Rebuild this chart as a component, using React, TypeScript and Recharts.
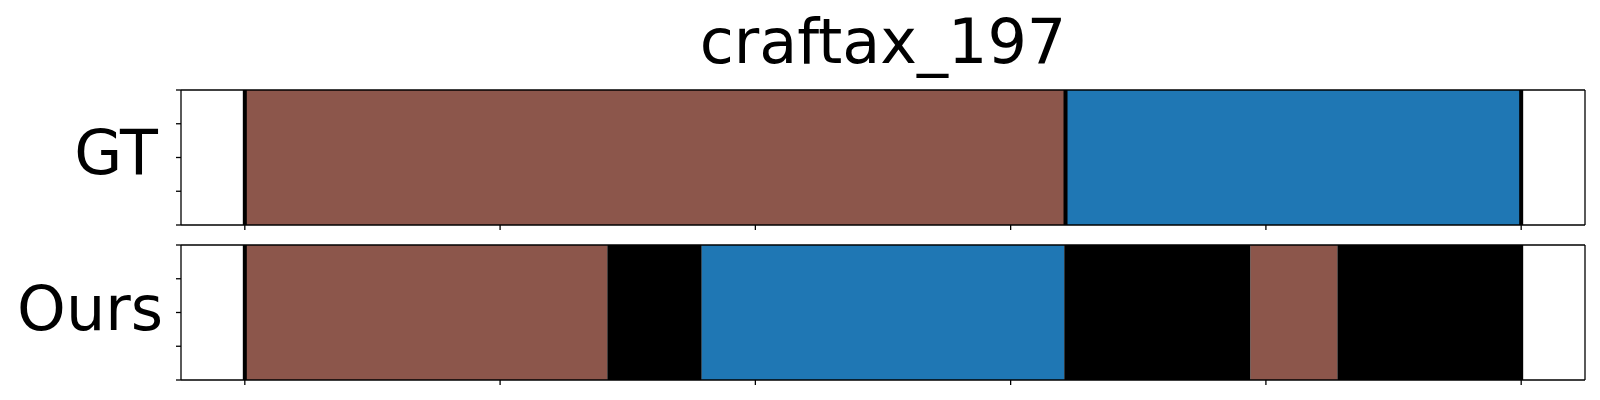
import { BarChart, Bar, XAxis, YAxis, ReferenceLine } from "recharts";

// frame boundaries of each segment (start of first .. end of last)
const gtBounds = [0, 321.5, 500];
// class per segment: 5 = C5 (brown), 0 = C0 (blue), -1 = no prediction
const gtClasses = [5, 0];
// boundary markers drawn on the GT row
const gtMarkers = [0, 321.5, 500];

const oursBounds = [0, 142, 179, 321, 394, 428, 500];
const oursClasses = [5, -1, 0, -1, 5, -1];
const oursMarkers = [0, 500];

const xTicks = [0, 100, 200, 300, 400, 500];
const yTicks = [0, 0.25, 0.5, 0.75, 1];

const title = "craftax_197";
const rowNames = ["GT", "Ours"];

const palette: Record<number, string> = {
    0: "#1f77b4",
    5: "#8c564b",
    [-1]: "#000000",
};

const FONT = "'DejaVu Sans', sans-serif";
const XDOMAIN: [number, number] = [-25, 525];
const noLabel = () => "";

const buildRow = (name: string, bounds: number[]) => {
    const row: Record<string, string | number> = { name };
    for (let i = 0; i < bounds.length - 1; i++) {
        row[`s${i}`] = bounds[i + 1] - bounds[i];
    }
    return [row];
};

interface PanelProps {
    name: string;
    bounds: number[];
    classes: number[];
    markers: number[];
    top: number;
    bottom: number;
}

const layer = { position: "absolute" as const, left: 0, top: 0 };

// three charts laid over each other:
//  1. vertical layout: the segment bars
//  2. vertical layout: frame, x ticks and boundary markers
//  3. horizontal layout: y ticks (a numeric y axis only works there)
const Panel = ({ name, bounds, classes, markers, top, bottom }: PanelProps) => {
    const data = buildRow(name, bounds);
    const height = 400;
    const plotMargin = { top: top, right: 15, left: 181, bottom: height - bottom };
    const frameMargin = { top: top - 1, right: 14, left: 176, bottom: height - bottom - 5 };
    const yTickMargin = { top: top, right: 15, left: 176, bottom: height - bottom };
    const line = { stroke: "#000", strokeWidth: 1.3 };

    return (
        <>
            <div style={layer}>
                <BarChart
                    width={1600}
                    height={height}
                    data={data}
                    layout="vertical"
                    barCategoryGap={0}
                    barGap={0}
                    margin={plotMargin}
                >
                    <XAxis type="number" domain={XDOMAIN} allowDataOverflow hide />
                    <YAxis type="category" dataKey="name" hide width={0} />
                    {classes.map((c, i) => (
                        <Bar
                            key={i}
                            dataKey={`s${i}`}
                            stackId="seg"
                            fill={palette[c]}
                            isAnimationActive={false}
                        />
                    ))}
                </BarChart>
            </div>
            <div style={layer}>
                <BarChart width={1600} height={height} data={data} layout="vertical" margin={frameMargin}>
                    <XAxis
                        type="number"
                        domain={XDOMAIN}
                        ticks={xTicks}
                        interval={0}
                        allowDataOverflow
                        tickFormatter={noLabel}
                        tickSize={5}
                        height={5}
                        stroke="#000"
                        axisLine={line}
                        tickLine={line}
                    />
                    <XAxis
                        xAxisId="top"
                        orientation="top"
                        type="number"
                        domain={XDOMAIN}
                        allowDataOverflow
                        tick={false}
                        tickLine={false}
                        height={1}
                        stroke="#000"
                        axisLine={line}
                    />
                    <YAxis
                        yAxisId="left"
                        type="number"
                        domain={[0, 1]}
                        tick={false}
                        tickLine={false}
                        width={5}
                        stroke="#000"
                        axisLine={line}
                    />
                    <YAxis yAxisId="cat" type="category" dataKey="name" hide width={0} />
                    <YAxis
                        yAxisId="right"
                        orientation="right"
                        type="number"
                        domain={[0, 1]}
                        tick={false}
                        tickLine={false}
                        width={1}
                        stroke="#000"
                        axisLine={line}
                    />
                    {markers.map((m, i) => (
                        <ReferenceLine key={`m${i}`} yAxisId="cat" x={m} stroke="#000" strokeWidth={4} />
                    ))}
                </BarChart>
            </div>
            <div style={layer}>
                <BarChart width={1600} height={height} data={data} margin={yTickMargin}>
                    <XAxis hide />
                    <YAxis
                        type="number"
                        domain={[0, 1]}
                        ticks={yTicks}
                        interval={0}
                        allowDataOverflow
                        tickFormatter={noLabel}
                        tickSize={5}
                        width={5}
                        stroke="#000"
                        axisLine={false}
                        tickLine={line}
                    />
                </BarChart>
            </div>
        </>
    );
};

export default function App() {
    return (
        <div style={{ position: "absolute", left: 0, top: 0, width: 1600, height: 400, background: "#fff" }}>
            <Panel name={rowNames[0]} bounds={gtBounds} classes={gtClasses} markers={gtMarkers} top={90} bottom={225} />
            <Panel name={rowNames[1]} bounds={oursBounds} classes={oursClasses} markers={oursMarkers} top={245} bottom={380} />
            <svg width={1600} height={400} style={{ position: "absolute", left: 0, top: 0, pointerEvents: "none" }}>
                <text x={883} y={63} textAnchor="middle" fontFamily={FONT} fontSize={62} fill="#000">
                    {title}
                </text>
                <text x={158} y={174} textAnchor="end" fontFamily={FONT} fontSize={62} fill="#000">
                    {rowNames[0]}
                </text>
                <text x={163} y={330} textAnchor="end" fontFamily={FONT} fontSize={62} fill="#000">
                    {rowNames[1]}
                </text>
            </svg>
        </div>
    );
}
